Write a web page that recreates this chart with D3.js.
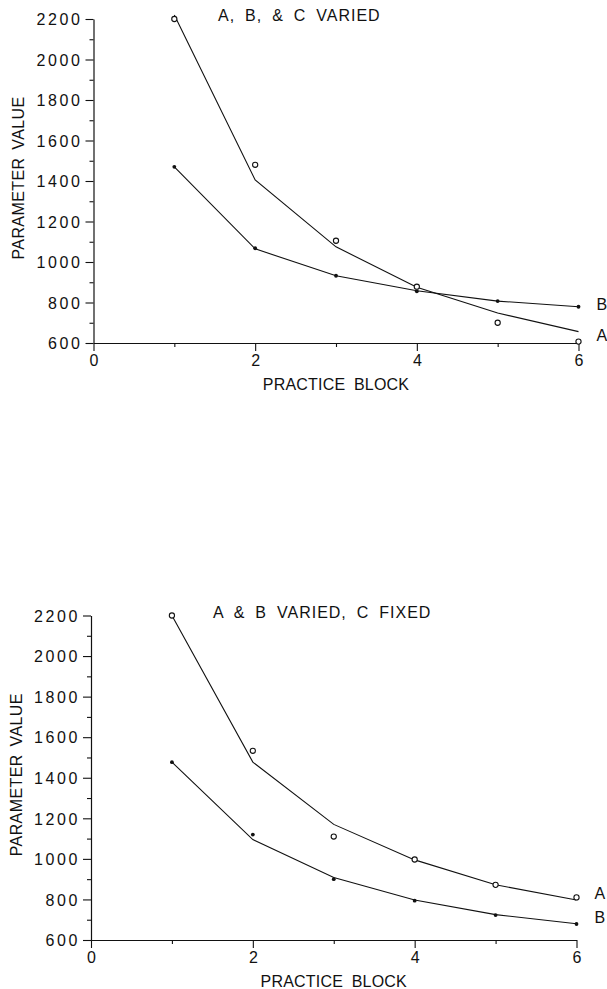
<!DOCTYPE html>
<html>
<head>
<meta charset="utf-8">
<script src="https://cdn.jsdelivr.net/npm/d3@7/dist/d3.min.js"></script>
<style>
  html, body { margin: 0; padding: 0; background: #fff; }
  svg { display: block; }
  text { font-family: "Liberation Sans", Arial, sans-serif; fill: #111; }
</style>
</head>
<body>
<svg id="chart" width="607" height="989"></svg>
<script>
// Practice blocks on the x axis
const blocks = [1, 2, 3, 4, 5, 6];
const xTicks = [0, 1, 2, 3, 4, 5, 6];
const xTickLabels = ["0", "", "2", "", "4", "", "6"];
const yTicks = [600, 700, 800, 900, 1000, 1100, 1200, 1300, 1400, 1500, 1600, 1700, 1800, 1900, 2000, 2100, 2200];
const yTickLabels = ["600", "", "800", "", "1000", "", "1200", "", "1400", "", "1600", "", "1800", "", "2000", "", "2200"];

// Panel 1: A, B & C varied — observed (A open circles, B dots) and fitted curves
const topAObserved = [2200, 1480, 1105, 878, 700, 607];
const topAFitted   = [2220, 1405, 1075, 875, 748, 656];
const topBObserved = [1470, 1068, 932, 855, 807, 779];
const topBFitted   = [1470, 1065, 932, 858, 807, 779];

// Panel 2: A & B varied, C fixed
const botAObserved = [2200, 1533, 1110, 997, 872, 810];
const botAFitted   = [2200, 1477, 1170, 995, 872, 797];
const botBObserved = [1477, 1120, 900, 794, 723, 679];
const botBFitted   = [1477, 1095, 908, 797, 725, 680];

const svg = d3.select("#chart");

function drawPanel(p) {
  const g = svg.append("g");
  const x = d3.scaleLinear().domain([0, 6]).range([p.x0, p.x1]);
  const y = d3.scaleLinear().domain([600, 2200]).range([p.y0, p.y1]);

  // y axis: labelled majors every 200, short minors between
  const yAxis = d3.axisLeft(y).tickValues(yTicks)
    .tickSize(0).tickFormat((d, i) => yTickLabels[i]);
  const ya = g.append("g").attr("transform", `translate(${p.x0},0)`).call(yAxis);
  ya.select(".domain").attr("stroke", "#111").attr("stroke-width", 1.2);
  ya.selectAll(".tick line")
    .attr("x2", (d, i) => yTickLabels[i] ? -8 : -4)
    .attr("stroke", "#111").attr("stroke-width", 1.1);
  ya.selectAll(".tick text")
    .attr("x", -11).attr("dy", "0.36em")
    .style("font-size", "16px").style("letter-spacing", "2.6px")
    .style("font-family", "Liberation Sans, Arial, sans-serif").attr("fill", "#111");

  // x axis along the 600 line
  const xAxis = d3.axisBottom(x).tickValues(xTicks)
    .tickSize(0).tickFormat((d, i) => xTickLabels[i]);
  const xa = g.append("g").attr("transform", `translate(0,${p.y0})`).call(xAxis);
  xa.select(".domain").attr("stroke", "#111").attr("stroke-width", 1.2);
  xa.selectAll(".tick line")
    .attr("y2", (d, i) => xTickLabels[i] ? 8 : 4)
    .attr("stroke", "#111").attr("stroke-width", 1.1);
  xa.selectAll(".tick text")
    .attr("y", 12).attr("dy", "0.71em")
    .style("font-size", "16px")
    .style("font-family", "Liberation Sans, Arial, sans-serif").attr("fill", "#111");

  // axis titles
  g.append("text")
    .attr("transform", `translate(${p.yLabelX},${(p.y0 + p.y1) / 2 - 3}) rotate(-90)`)
    .attr("text-anchor", "middle").attr("dy", "0.35em")
    .style("font-size", "16px").style("letter-spacing", "0.4px").style("word-spacing", "3px")
    .text("PARAMETER VALUE");
  g.append("text")
    .attr("x", x(3)).attr("y", p.y0 + 47)
    .attr("text-anchor", "middle")
    .style("font-size", "16px").style("letter-spacing", "0.2px").style("word-spacing", "4px")
    .text("PRACTICE BLOCK");

  // panel heading
  g.append("text")
    .attr("x", p.titleX).attr("y", p.y1 + 2)
    .attr("text-anchor", "start")
    .style("font-size", "16px").style("letter-spacing", "1px").style("word-spacing", "4.5px")
    .text(p.title);

  const line = d3.line().x((d, i) => x(blocks[i])).y(d => y(d));

  // fitted curves
  [p.aFit, p.bFit].forEach(vals => {
    g.append("path").datum(vals)
      .attr("d", line).attr("fill", "none")
      .attr("stroke", "#111").attr("stroke-width", 1.1);
  });

  // observed A: open circles
  g.append("g").selectAll("circle").data(p.aObs).join("circle")
    .attr("cx", (d, i) => x(blocks[i])).attr("cy", d => y(d))
    .attr("r", 2.6).attr("fill", "#fff")
    .attr("stroke", "#111").attr("stroke-width", 1.1);

  // observed B: small filled dots
  g.append("g").selectAll("circle").data(p.bObs).join("circle")
    .attr("cx", (d, i) => x(blocks[i])).attr("cy", d => y(d))
    .attr("r", 1.9).attr("fill", "#111");

  // curve labels at the right end
  g.append("text")
    .attr("x", x(6) + 18).attr("y", y(p.aFit[5]) + p.aLabelDy)
    .attr("dy", "0.36em").style("font-size", "16px").text("A");
  g.append("text")
    .attr("x", x(6) + 18).attr("y", y(p.bFit[5]) + p.bLabelDy)
    .attr("dy", "0.36em").style("font-size", "16px").text("B");
}

drawPanel({
  x0: 93.5, x1: 578.5, y0: 343, y1: 19, yLabelX: 18,
  title: "A, B, & C VARIED", titleX: 218,
  aObs: topAObserved, aFit: topAFitted, bObs: topBObserved, bFit: topBFitted,
  aLabelDy: 4, bLabelDy: -3
});

drawPanel({
  x0: 91, x1: 576.5, y0: 940, y1: 615.5, yLabelX: 16,
  title: "A & B VARIED, C FIXED", titleX: 213,
  aObs: botAObserved, aFit: botAFitted, bObs: botBObserved, bFit: botBFitted,
  aLabelDy: -7, bLabelDy: -7
});
</script>
</body>
</html>
